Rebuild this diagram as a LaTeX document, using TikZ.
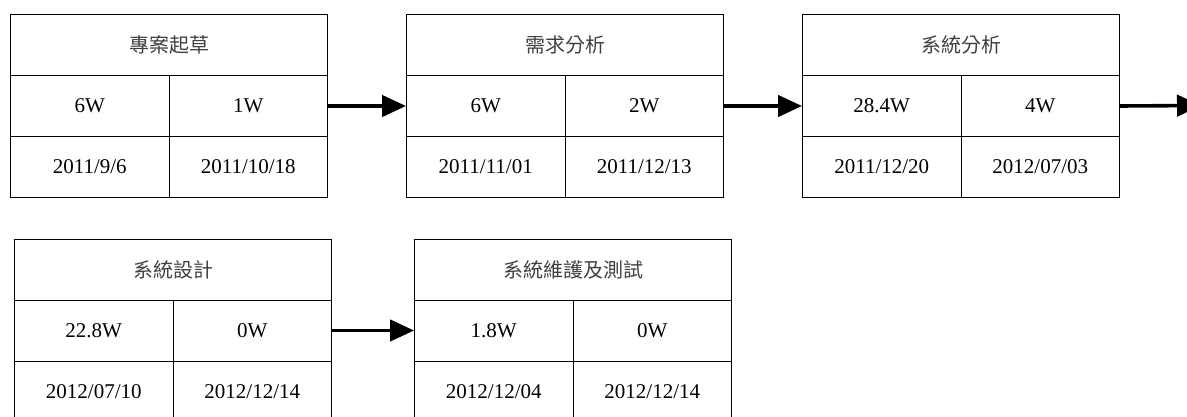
\documentclass[tikz,border=0pt]{standalone}
\usepackage{fontspec}
\setmainfont{Liberation Serif}
\newfontfamily\cjk{Noto Sans CJK TC}
\usetikzlibrary{arrows.meta}
\newcommand\taskbox[8]{%
  \node[titlecell] (#1t) at (#2,#3) {#4};
  \node[cell] (#1a) at (#2,#3+61) {#5};
  \node[cell] (#1b) at (#2+158.5,#3+61) {#6};
  \node[cell] (#1c) at (#2,#3+122) {#7};
  \node[cell] (#1d) at (#2+158.5,#3+122) {#8};
}
\begin{document}
\begin{tikzpicture}[x=0.75pt,y=-0.75pt,
  cell/.style={draw, line width=0.75pt, minimum width=158.5*0.75pt,
    minimum height=61*0.75pt, inner sep=0pt, anchor=north west,
    font=\fontsize{15.75}{18}\selectfont},
  titlecell/.style={cell, minimum width=317*0.75pt,
    font=\cjk\fontsize{15}{18}\selectfont, text=black!75},
  flow/.style={line width=2.7pt, -{Triangle[length=18pt,width=16pt]}}]
\useasboundingbox (0,0) rectangle (1187,417);
\clip (0,0) rectangle (1187,417);
\taskbox{p}{10}{14}{專案起草}{6W}{1W}{2011/9/6}{2011/10/18}
\taskbox{q}{406}{14}{需求分析}{6W}{2W}{2011/11/01}{2011/12/13}
\taskbox{r}{802}{14}{系統分析}{28.4W}{4W}{2011/12/20}{2012/07/03}
\taskbox{s}{14}{238.5}{系統設計}{22.8W}{0W}{2012/07/10}{2012/12/14}
\taskbox{u}{414}{238.5}{系統維護及測試}{1.8W}{0W}{2012/12/04}{2012/12/14}
\coordinate (out) at (1201,105.5);
\draw[flow] (pb.east) -- (qa.west);
\draw[flow] (qb.east) -- (ra.west);
\draw[flow] (rb.east) -- (out);
\draw[flow] (sb.east) -- (ua.west);
\end{tikzpicture}
\end{document}
